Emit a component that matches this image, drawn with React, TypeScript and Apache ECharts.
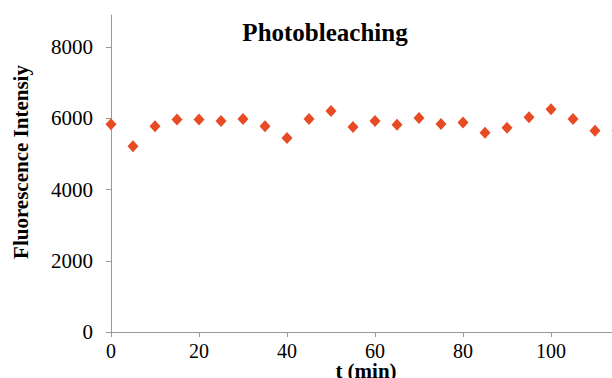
import React, { useEffect, useRef } from "react";
import * as echarts from "echarts";

const times = [0, 5, 10, 15, 20, 25, 30, 35, 40, 45, 50, 55, 60, 65, 70, 75, 80, 85, 90, 95, 100, 105, 110, 115];
const intensity = [5834, 5217, 5778, 5966, 5966, 5927, 5983, 5778, 5450, 5983, 6208, 5755, 5927, 5822, 6011, 5843, 5882, 5591, 5731, 6031, 6255, 5983, 5647, 5660];
const yTicks = [0, 2000, 4000, 6000, 8000];
const xTicks = [0, 20, 40, 60, 80, 100];

const serif = "'Liberation Serif', 'DejaVu Serif', serif";

export default function App() {
  const ref = useRef<HTMLDivElement>(null);
  useEffect(() => {
    if (!ref.current) return;
    const chart = echarts.init(ref.current, null, { renderer: "svg" });
    chart.setOption({
      animation: false,
      backgroundColor: "#ffffff",
      grid: { left: 111, right: 1, top: 15, bottom: 46, containLabel: false },
      xAxis: {
        type: "value",
        min: 0,
        max: 115,
        interval: 20,
        splitLine: { show: false },
        axisLine: { show: true, lineStyle: { color: "#999", width: 1 } },
        axisTick: { show: true, length: 5, lineStyle: { color: "#999" }, customValues: xTicks },
        axisLabel: {
          customValues: xTicks,
          margin: 9,
          fontFamily: serif,
          fontSize: 20,
          color: "#000",
          formatter: (v: number) => String(v),
        },
      },
      yAxis: {
        type: "value",
        min: 0,
        max: 8900,
        interval: 2000,
        splitLine: { show: false },
        axisLine: { show: true, lineStyle: { color: "#999", width: 1 } },
        axisTick: { show: true, length: 5, lineStyle: { color: "#999" }, customValues: yTicks },
        axisLabel: {
          customValues: yTicks,
          margin: 18,
          fontFamily: serif,
          fontSize: 21,
          color: "#000",
          formatter: (v: number) => String(v),
        },
      },
      graphic: [
        {
          type: "text",
          x: 325,
          y: 32,
          style: {
            text: "Photobleaching",
            fontFamily: serif,
            fontSize: 25,
            fontWeight: "bold",
            fill: "#000",
            align: "center",
            verticalAlign: "middle",
          },
        },
        {
          type: "text",
          x: 21,
          y: 162,
          rotation: Math.PI / 2,
          style: {
            text: "Fluorescence Intensiy",
            fontFamily: serif,
            fontSize: 21,
            fontWeight: "bold",
            fill: "#000",
            align: "center",
            verticalAlign: "middle",
          },
        },
        {
          type: "text",
          x: 366,
          y: 371,
          style: {
            text: "t (min)",
            fontFamily: serif,
            fontSize: 21,
            fontWeight: "bold",
            fill: "#000",
            align: "center",
            verticalAlign: "middle",
          },
        },
      ],
      series: [
        {
          type: "scatter",
          data: times.map((t, i) => [t, intensity[i]]),
          symbol: "diamond",
          symbolSize: [11, 12],
          itemStyle: { color: "#E84B23", opacity: 1 },
          clip: false,
        },
      ],
    });
    return () => chart.dispose();
  }, []);
  return (
    <div style={{ position: "fixed", left: 0, top: 0, width: 612, height: 378, overflow: "hidden", background: "#fff" }}>
      <div ref={ref} style={{ width: 618, height: 378 }} />
    </div>
  );
}
